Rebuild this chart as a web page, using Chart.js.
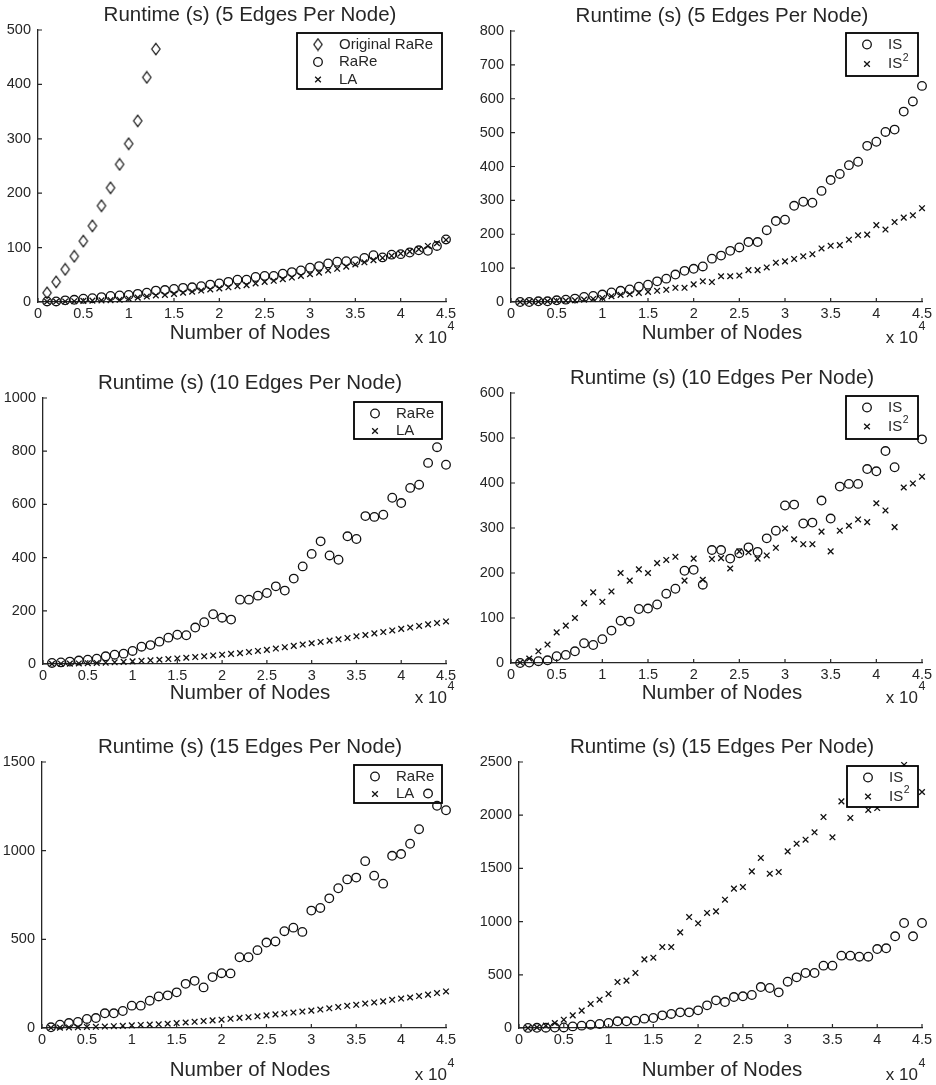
<!DOCTYPE html>
<html>
<head>
<meta charset="utf-8">
<title>Runtime vs number of nodes</title>
<script src="https://cdn.jsdelivr.net/npm/chart.js@4.4.1/dist/chart.umd.min.js"></script>
<style>
  html, body { margin: 0; padding: 0; background: #fff; }
  #page { position: relative; width: 936px; height: 1085px; overflow: hidden; background: #fff; }
  #page canvas { position: absolute; }
</style>
</head>
<body>
<div id="page"></div>
<script>
// x positions shared by every panel (number of nodes)
const nodes = [1000, 2000, 3000, 4000, 5000, 6000, 7000, 8000, 9000, 10000,
  11000, 12000, 13000, 14000, 15000, 16000, 17000, 18000, 19000, 20000,
  21000, 22000, 23000, 24000, 25000, 26000, 27000, 28000, 29000, 30000,
  31000, 32000, 33000, 34000, 35000, 36000, 37000, 38000, 39000, 40000,
  41000, 42000, 43000, 44000, 45000];

// 5 edges per node
const origRare5 = [17, 37, 60, 84, 112, 140, 177, 210, 253, 291, 333, 413, 465];
const rare5 = [1, 1, 3, 4, 6, 7, 9, 11, 12, 13, 15, 17, 21, 22, 24, 26, 27, 29, 32, 34,
  37, 41, 41, 46, 48, 48, 52, 55, 58, 63, 66, 71, 74, 75, 75, 81, 86, 82, 87, 88,
  91, 95, 94, 103, 115];
const la5 = [0.5, 0.8, 1, 1.5, 2, 2.5, 3, 3.5, 4, 6, 8, 10, 12, 13, 15, 17, 19, 21, 23, 25,
  27, 29, 31, 34, 37, 39, 42, 45, 48, 51, 54, 58, 61, 65, 69, 73, 77, 81, 85, 89,
  93, 97, 103, 108, 114];
const is5 = [0, 0, 2, 2, 5, 7, 10, 15, 18, 22, 28, 33, 37, 45, 51, 61, 69, 81, 92, 98,
  105, 128, 137, 151, 161, 177, 177, 212, 239, 243, 284, 296, 293, 328, 360, 378, 404, 414, 461, 473,
  502, 509, 562, 592, 638];
const isSq5 = [0, 1, 1, 2, 3, 4, 5, 7, 9, 12, 17, 21, 23, 27, 30, 33, 36, 42, 42, 52,
  61, 59, 76, 76, 78, 94, 94, 102, 116, 120, 127, 135, 141, 158, 166, 168, 184, 197, 199, 227,
  214, 236, 249, 256, 277];

// 10 edges per node
const rare10 = [4, 6, 9, 13, 16, 20, 29, 35, 39, 49, 65, 71, 84, 99, 110, 108, 137, 157, 187, 174,
  167, 242, 242, 257, 267, 292, 276, 321, 367, 414, 461, 408, 392, 480, 470, 556, 553, 561, 625, 605,
  662, 674, 756, 815, 749];
const la10 = [0.5, 1, 1.5, 2, 3, 4, 5, 6.5, 8, 10, 12, 14, 16, 18.5, 21, 23.5, 26, 29, 32, 35,
  38, 41, 45, 49, 53, 58, 63, 68, 73, 78, 83, 88, 93, 98, 104, 109, 115, 120, 126, 132,
  137, 143, 149, 154, 160];
const is10 = [0, 1, 4, 6, 15, 18, 26, 44, 40, 53, 72, 94, 92, 120, 121, 130, 154, 165, 205, 207,
  174, 251, 251, 232, 244, 257, 247, 277, 294, 350, 352, 310, 312, 361, 321, 392, 398, 398, 431, 426,
  471, 435, null, null, 497];
const isSq10 = [1, 10, 26, 41, 68, 83, 100, 133, 157, 136, 159, 200, 183, 208, 200, 222, 229, 236, 183, 232,
  185, 231, 233, 210, 248, 246, 232, 239, 256, 299, 275, 264, 264, 292, 248, 294, 305, 319, 313, 355,
  339, 302, 390, 399, 414];

// 15 edges per node
const rare15 = [4, 19, 28, 34, 51, 56, 83, 83, 96, 126, 126, 154, 178, 184, 201, 249, 266, 229, 287, 309,
  308, 399, 399, 439, 482, 488, 546, 566, 542, 662, 677, 731, 788, 838, 848, 941, 859, 814, 971, 981,
  1039, 1121, 1322, 1253, 1228];
const la15 = [1, 2, 3, 4, 6, 7, 8, 10, 12, 15, 17, 19, 21, 24, 28, 31, 35, 39, 43, 47,
  52, 57, 61, 66, 71, 77, 82, 87, 93, 98, 104, 111, 118, 125, 131, 138, 144, 150, 159, 166,
  172, 180, 188, 197, 206];
const is15 = [1, 2, 3, 4, 5, 15, 22, 31, 38, 47, 63, 63, 69, 88, 94, 119, 132, 147, 147, 166,
  213, 260, 244, 291, 298, 310, 385, 376, 335, 435, 476, 517, 517, 586, 586, 680, 680, 670, 670, 742,
  749, 862, 987, 862, 987];
const isSq15 = [0, 6, 22, 47, 78, 119, 163, 226, 266, 320, 432, 445, 517, 645, 661, 761, 761, 899, 1043, 984,
  1081, 1096, 1206, 1310, 1325, 1472, 1598, 1450, 1466, 1660, 1732, 1770, 1839, 1983, 1792, 2130, 1974, null, 2049, 2067,
  null, null, 2472, null, 2218];

const FONT = '"Liberation Sans", Arial, Helvetica, sans-serif';
const INK = '#262626';
const MARK = '#111';

// tall outlined diamond used for "Original RaRe"
const diamond = document.createElement('canvas');
diamond.width = 12;
diamond.height = 14;
(function () {
    const c = diamond.getContext('2d');
    c.strokeStyle = '#111';
    c.lineWidth = 1.15;
    c.beginPath();
    c.moveTo(6, 1.3);
    c.lineTo(10.2, 7);
    c.lineTo(6, 12.7);
    c.lineTo(1.8, 7);
    c.closePath();
    c.stroke();
})();

function toPoints(ys) {
    return ys.map((y, i) => ({ x: nodes[i], y: y }));
}

function series(label, ys, kind) {
    const ds = {
        label: label,
        data: toPoints(ys),
        borderColor: MARK,
        backgroundColor: 'rgba(0,0,0,0)',
        pointBorderWidth: 1.3,
        showLine: false,
        clip: false
    };
    if (kind === 'circle') {
        ds.pointStyle = 'circle';
        ds.pointRadius = 4.3;
    } else if (kind === 'cross') {
        ds.pointStyle = 'crossRot';
        ds.pointRadius = 4;
    } else {
        ds.pointStyle = diamond;
        ds.pointRadius = 6;
    }
    return ds;
}

const panels = [
    { canvas: [0, 0, 468, 355], area: [38, 30, 446, 302], title: 'Runtime (s) (5 Edges Per Node)',
      yMax: 500, yStep: 100, labelGap: 31, col: 0,
      legend: { dy: 3, w: 145, h: 56, row: 17.5 },
      datasets: [series('Original RaRe', origRare5, 'diamond'), series('RaRe', rare5, 'circle'), series('LA', la5, 'cross')] },
    { canvas: [468, 0, 468, 355], area: [511, 31, 922, 302], title: 'Runtime (s) (5 Edges Per Node)',
      yMax: 800, yStep: 100, labelGap: 31, col: 1,
      legend: { dy: 2, w: 72, h: 43, row: 19.5 },
      datasets: [series('IS', is5, 'circle'), series('IS^2', isSq5, 'cross')] },
    { canvas: [0, 355, 468, 360], area: [43, 398, 446, 664], title: 'Runtime (s) (10 Edges Per Node)',
      yMax: 1000, yStep: 200, labelGap: 29, col: 0,
      legend: { dy: 4, w: 88, h: 37, row: 17.5 },
      datasets: [series('RaRe', rare10, 'circle'), series('LA', la10, 'cross')] },
    { canvas: [468, 355, 468, 360], area: [511, 393, 922, 663], title: 'Runtime (s) (10 Edges Per Node)',
      yMax: 600, yStep: 100, labelGap: 30, col: 1,
      legend: { dy: 3, w: 72, h: 43, row: 19 },
      datasets: [series('IS', is10, 'circle'), series('IS^2', isSq10, 'cross')] },
    { canvas: [0, 715, 468, 370], area: [42, 762, 446, 1028], title: 'Runtime (s) (15 Edges Per Node)',
      yMax: 1500, yStep: 500, labelGap: 42, col: 0, legendUnder: true,
      legend: { dy: 3, w: 88, h: 38, row: 17.5 },
      datasets: [series('RaRe', rare15, 'circle'), series('LA', la15, 'cross')] },
    { canvas: [468, 715, 468, 370], area: [519, 762, 922, 1028], title: 'Runtime (s) (15 Edges Per Node)',
      yMax: 2500, yStep: 500, labelGap: 42, col: 1,
      legend: { dy: 4, w: 71, h: 41, row: 19 },
      datasets: [series('IS', is15, 'circle'), series('IS^2', isSq15, 'cross')] }
];

// centre of title / x label and right end of "x 10" per column (page coords)
const colTextX = [250, 722];
const colExpRight = [447, 918];

function drawLabel(ctx, label, x, y) {
    const parts = label.split('^');
    ctx.font = '15px ' + FONT;
    ctx.textAlign = 'left';
    ctx.textBaseline = 'middle';
    ctx.fillText(parts[0], x, y);
    if (parts[1]) {
        const w = ctx.measureText(parts[0]).width;
        ctx.font = '10.5px ' + FONT;
        ctx.fillText(parts[1], x + w + 0.5, y - 6);
    }
}

function drawLegend(chart, p) {
    const ctx = chart.ctx;
    const a = chart.chartArea;
    const lg = p.legend;
    const left = a.right - 4 - lg.w;
    const top = a.top + lg.dy;
    ctx.save();
    ctx.fillStyle = '#fff';
    ctx.fillRect(left, top, lg.w, lg.h);
    ctx.strokeStyle = '#000';
    ctx.lineWidth = 1.8;
    ctx.strokeRect(left, top, lg.w, lg.h);
    chart.data.datasets.forEach((ds, i) => {
        const y = top + 11.5 + i * lg.row;
        ctx.strokeStyle = MARK;
        ctx.fillStyle = 'rgba(0,0,0,0)';
        ctx.lineWidth = ds.pointBorderWidth;
        Chart.helpers.drawPoint(ctx, {
            pointStyle: ds.pointStyle,
            radius: ds.pointRadius,
            rotation: 0,
            borderWidth: ds.pointBorderWidth
        }, left + 21, y);
        ctx.fillStyle = INK;
        drawLabel(ctx, ds.label, left + 42, y);
    });
    ctx.restore();
}

const panelDecor = {
    id: 'panelDecor',
    beforeDatasetsDraw(chart, args, opts) {
        if (opts.panel.legendUnder) drawLegend(chart, opts.panel);
    },
    afterDatasetsDraw(chart, args, opts) {
        if (!opts.panel.legendUnder) drawLegend(chart, opts.panel);
    },
    afterDraw(chart, args, opts) {
        const p = opts.panel;
        const ctx = chart.ctx;
        const a = chart.chartArea;
        const xs = chart.scales.x;
        const ys = chart.scales.y;
        const ox = p.canvas[0];
        const cx = colTextX[p.col] - ox;
        ctx.save();

        // inward tick marks
        ctx.strokeStyle = INK;
        ctx.lineWidth = 1.2;
        ctx.beginPath();
        xs.ticks.forEach(t => {
            const px = xs.getPixelForValue(t.value);
            ctx.moveTo(px, a.bottom);
            ctx.lineTo(px, a.bottom - 4);
        });
        ys.ticks.forEach(t => {
            const py = ys.getPixelForValue(t.value);
            ctx.moveTo(a.left, py);
            ctx.lineTo(a.left + 4, py);
        });
        ctx.stroke();

        ctx.fillStyle = INK;
        ctx.textBaseline = 'middle';
        ctx.textAlign = 'center';
        ctx.font = '20.5px ' + FONT;
        ctx.fillText(p.title, cx, a.top - 15);
        ctx.fillText('Number of Nodes', cx, a.bottom + p.labelGap);

        // axis multiplier
        const er = colExpRight[p.col] - ox;
        ctx.textAlign = 'right';
        ctx.font = '17px ' + FONT;
        ctx.fillText('x 10', er, a.bottom + p.labelGap + 5);
        ctx.textAlign = 'left';
        ctx.font = '12.5px ' + FONT;
        ctx.fillText('4', er + 0.5, a.bottom + p.labelGap - 6);
        ctx.restore();
    }
};

const page = document.getElementById('page');

panels.forEach(p => {
    const [cx, cy, cw, ch] = p.canvas;
    const [L, T, R, B] = p.area;
    const canvas = document.createElement('canvas');
    canvas.width = cw;
    canvas.height = ch;
    canvas.style.left = cx + 'px';
    canvas.style.top = cy + 'px';
    canvas.style.width = cw + 'px';
    canvas.style.height = ch + 'px';
    page.appendChild(canvas);

    const xAxisH = 30;
    const yAxisW = L - cx;

    new Chart(canvas, {
        type: 'scatter',
        data: { datasets: p.datasets },
        options: {
            responsive: false,
            animation: false,
            events: [],
            layout: {
                padding: { left: 0, top: T - cy, right: cx + cw - R, bottom: cy + ch - B - xAxisH }
            },
            plugins: {
                legend: { display: false },
                title: { display: false },
                tooltip: { enabled: false },
                panelDecor: { panel: p }
            },
            scales: {
                x: {
                    type: 'linear',
                    min: 0,
                    max: 45000,
                    grid: { display: false, drawTicks: false },
                    border: { color: INK, width: 1.3 },
                    ticks: {
                        stepSize: 5000,
                        autoSkip: false,
                        maxRotation: 0,
                        padding: 3,
                        color: INK,
                        font: { family: FONT, size: 14.5 },
                        callback: v => String(v / 10000)
                    },
                    afterFit: s => { s.height = xAxisH; }
                },
                y: {
                    type: 'linear',
                    min: 0,
                    max: p.yMax,
                    grid: { display: false, drawTicks: false },
                    border: { color: INK, width: 1.3 },
                    ticks: {
                        stepSize: p.yStep,
                        padding: 7,
                        color: INK,
                        font: { family: FONT, size: 14.5 },
                        callback: v => String(v)
                    },
                    afterFit: s => { s.width = yAxisW; }
                }
            }
        },
        plugins: [panelDecor]
    });
});
</script>
</body>
</html>
